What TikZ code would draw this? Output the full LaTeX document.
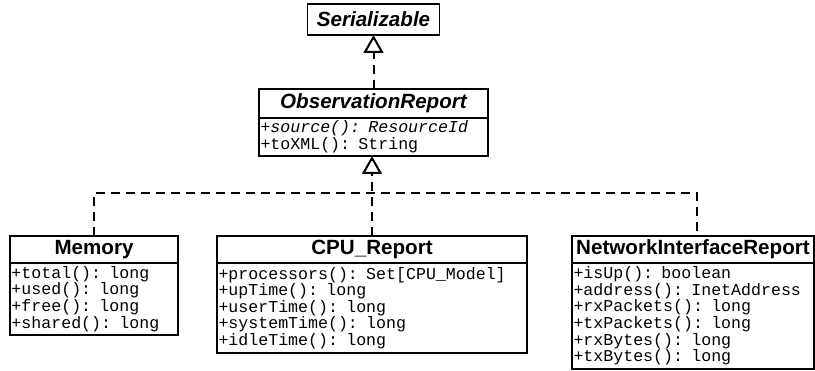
\documentclass[tikz,border=0pt]{standalone}
\usepackage{fontspec}
\setsansfont{Liberation Sans}
\setmonofont{Liberation Mono}
\usetikzlibrary{arrows.meta, positioning}

\tikzset{
	classname/.style = {draw, line width = 1.6pt, outer sep = 0pt, inner sep = 0pt, anchor = north west,
		font = \sffamily\bfseries\fontsize{20.6}{20.6}\selectfont},
	members/.style = {draw, line width = 1.6pt, outer sep = 0pt, inner xsep = 1.5pt, inner ysep = 0pt,
		align = left, font = \ttfamily\fontsize{16.6}{16.6}\selectfont},
	dashline/.style = {line width = 2pt, dash pattern = on 9pt off 6pt},
	realize/.style = {dashline, -{Triangle[open, length = 18pt, width = 20pt, line width = 2pt]}}
}

\begin{document}
\begin{tikzpicture}[x = 1pt, y = -1pt]
\useasboundingbox (0, 0) rectangle (815, 371);

	% Interfaces

	\node [classname, anchor = north, minimum width = 132, minimum height = 31] (serial) at (373.5, 4) {\itshape Serializable};

	\node [classname, minimum width = 229, minimum height = 29] (obshead) at (259, 89) {\itshape ObservationReport};
	\node [members, below right = 0pt and 0pt of obshead.south west, text width = 226, minimum height = 38] (obsbody)
		{\textit{+source(): ResourceId}\\+toXML(): String};

	% Reports

	\node [classname, minimum width = 168, minimum height = 27] (memhead) at (10, 236) {Memory};
	\node [members, below right = 0pt and 0pt of memhead.south west, text width = 165, minimum height = 72] (membody)
		{+total(): long\\+used(): long\\+free(): long\\+shared(): long};

	\node [classname, minimum width = 310, minimum height = 27] (cpuhead) at (217, 236) {CPU\_Report};
	\node [members, below right = 0pt and 0pt of cpuhead.south west, text width = 307, minimum height = 90] (cpubody)
		{+processors(): Set[CPU\_Model]\\+upTime(): long\\+userTime(): long\\+systemTime(): long\\+idleTime(): long};

	\node [classname, minimum width = 242, minimum height = 27] (nethead) at (572, 236) {NetworkInterfaceReport};
	\node [members, below right = 0pt and 0pt of nethead.south west, text width = 239, minimum height = 106] (netbody)
		{+isUp(): boolean\\+address(): InetAddress\\+rxPackets(): long\\+txPackets(): long\\+rxBytes(): long\\+txBytes(): long};

	% Realizations

	\draw [realize] (obshead.north) -- (serial.south);

	\coordinate (fork) at (cpuhead.north |- 0, 193);
	\draw [realize] (cpuhead.north) -- (cpuhead.north |- obsbody.south);
	\draw [dashline] (memhead.north) |- (fork) -| ([xshift = 4pt]nethead.north);

\end{tikzpicture}
\end{document}
